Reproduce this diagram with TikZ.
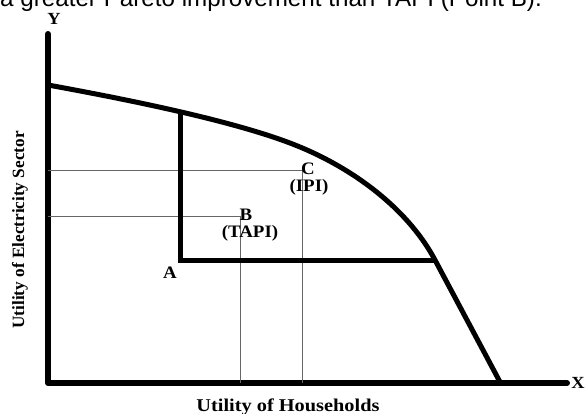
\documentclass[tikz,border=0pt]{standalone}
\usepackage{fontspec}
\setmainfont{Liberation Serif}
\newfontfamily\topfont{Liberation Sans}
\newfontfamily\lblfont[FakeStretch=1.08]{Liberation Serif}
\newfontfamily\xlblfont[FakeStretch=1.13]{Liberation Serif}
\begin{document}
\begin{tikzpicture}[x=1pt,y=-1pt,
  axisline/.style={line width=6pt,line cap=round,line join=round},
  frontier/.style={line width=5pt},
  guide/.style={line width=0.9pt,draw=black!60},
  ptlabel/.style={font=\lblfont\bfseries\fontsize{17.5}{17.5}\selectfont,inner sep=0pt},
  axlabel/.style={font=\lblfont\bfseries\fontsize{17}{17}\selectfont,inner sep=0pt}]
\useasboundingbox (0,0) rectangle (586,414);
% top text (cut off)
\node[anchor=base west,inner sep=0pt,font=\topfont\fontsize{24.2}{24.2}\selectfont] (toptext) at (0,6.5) {a greater Pareto improvement than TAPI (Point B).};
% axes
\coordinate (O) at (48,383);
\coordinate (Ytop) at (48,34);
\coordinate (Xend) at (567,383);
\draw[axisline] (Ytop) -- (O) -- (Xend);
\node[axlabel] (Ylab) at (54,19) {Y};
\node[axlabel] (Xlab) at (578,383) {X};
% frontier
\coordinate (F0) at (48,85);
\coordinate (F1) at (300,147);
\coordinate (F2) at (435,260);
\coordinate (F3) at (500,382);
\draw[frontier] (F0) .. controls (130,100) and (240,122) .. (F1)
  .. controls (360,172) and (410,213) .. (F2) -- (F3);
% thin guides
\coordinate (C) at (302,170);
\coordinate (B) at (240,216);
\coordinate (Cy) at (48,170);
\coordinate (Cx) at (302,383);
\coordinate (By) at (48,216);
\coordinate (Bx) at (240,383);
\draw[guide] (Cy) -- (C) -- (Cx);
\draw[guide] (By) -- (B) -- (Bx);
% thick Pareto box
\coordinate (P) at (180,112);
\coordinate (Acorner) at (180,260);
\draw[frontier] (P) -- (Acorner) -- (F2);
% point labels
\node[ptlabel] (Clab) at (308,169) {C};
\node[ptlabel] (IPI) at (309,187) {(IPI)};
\node[ptlabel] (Blab) at (246,215) {B};
\node[ptlabel] (TAPI) at (250,233) {(TAPI)};
\node[ptlabel] (Alab) at (170,273) {A};
% axis titles
\node[font=\bfseries\fontsize{17.2}{17.2}\selectfont,inner sep=0pt,rotate=90] (ytitle) at (20,230) {Utility of Electricity Sector};
\node[font=\xlblfont\bfseries\fontsize{18}{18}\selectfont,inner sep=0pt,anchor=base] (xtitle) at (288,411) {Utility of Households};
\end{tikzpicture}
\end{document}
